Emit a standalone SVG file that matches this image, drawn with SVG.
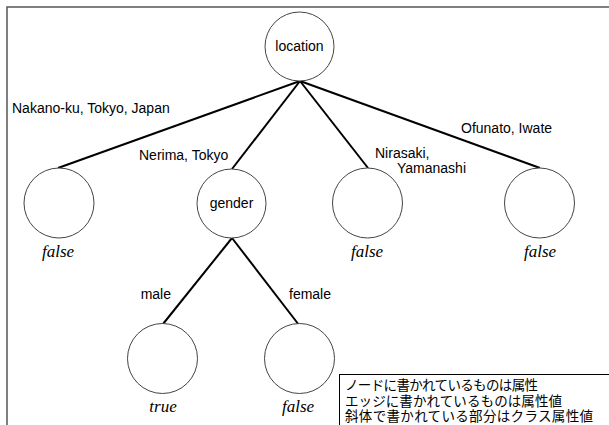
<svg xmlns="http://www.w3.org/2000/svg" width="609" height="425" viewBox="0 0 609 425">
<style>
.node{fill:#fff;stroke:#444;stroke-width:1}
.edge{stroke:#000;stroke-width:2;fill:none}
.lbl{font-family:"Liberation Sans",Arial,sans-serif;font-size:14px;fill:#000}
.cls{font-family:"Liberation Serif","Times New Roman",serif;font-style:italic;font-size:17px;fill:#000;text-anchor:middle}
.legend{font-family:"Noto Sans CJK JP","Noto Sans CJK SC",sans-serif;font-size:13.5px;fill:#000}
</style>
<rect x="0" y="0" width="609" height="425" fill="#fff"/>
<path d="M7,425 V7 H609" fill="none" stroke="#555" stroke-width="1.5"/>
<g id="connectors">
<line class="edge" x1="300" y1="81" x2="58" y2="168"/>
<line class="edge" x1="300" y1="81" x2="232" y2="169"/>
<line class="edge" x1="300" y1="81" x2="368" y2="168"/>
<line class="edge" x1="300" y1="81" x2="540" y2="168"/>
<line class="edge" x1="232" y1="238" x2="163" y2="324"/>
<line class="edge" x1="232" y1="238" x2="299" y2="325"/>
<text class="lbl" x="12" y="113">Nakano-ku, Tokyo, Japan</text>
<text class="lbl" x="139" y="160">Nerima, Tokyo</text>
<text class="lbl" x="375" y="158">Nirasaki,</text>
<text class="lbl" x="397" y="173">Yamanashi</text>
<text class="lbl" x="461" y="133">Ofunato, Iwate</text>
<text class="lbl" x="171" y="299" text-anchor="end">male</text>
<text class="lbl" x="289" y="299">female</text>
</g>
<g id="location">
<circle class="node" cx="299.5" cy="46.5" r="34.5"/>
<text class="lbl" x="299.5" y="51" text-anchor="middle">location</text>
</g>
<g id="leaf1">
<circle class="node" cx="59" cy="203" r="35"/>
<text class="cls" x="58" y="257">false</text>
</g>
<g id="gender">
<circle class="node" cx="231.5" cy="203.5" r="34.5"/>
<text class="lbl" x="231.5" y="208" text-anchor="middle">gender</text>
</g>
<g id="leaf3">
<circle class="node" cx="367.5" cy="203" r="35"/>
<text class="cls" x="367" y="257">false</text>
</g>
<g id="leaf4">
<circle class="node" cx="539.5" cy="203" r="35"/>
<text class="cls" x="540" y="257">false</text>
</g>
<g id="leafTrue">
<circle class="node" cx="162.5" cy="358.5" r="35"/>
<text class="cls" x="163" y="412">true</text>
</g>
<g id="leafFalse">
<circle class="node" cx="299.5" cy="358.5" r="35"/>
<text class="cls" x="298" y="412">false</text>
</g>
<g id="legend">
<rect x="339.5" y="374.5" width="280" height="60" fill="#fff" stroke="#000" stroke-width="1"/>
<text class="legend" x="345" y="390" textLength="193" lengthAdjust="spacing">ノードに書かれているものは属性</text>
<text class="legend" x="345" y="405.5" textLength="217" lengthAdjust="spacing">エッジに書かれているものは属性値</text>
<text class="legend" x="345" y="421" textLength="248" lengthAdjust="spacing">斜体で書かれている部分はクラス属性値</text>
</g>
</svg>
